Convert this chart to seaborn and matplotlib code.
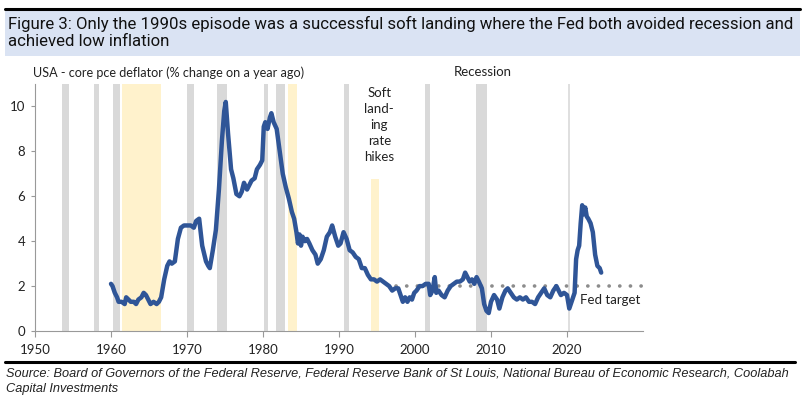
import matplotlib
matplotlib.use("Agg")
import matplotlib.pyplot as plt
import seaborn as sns
import pandas as pd
from matplotlib.patches import Rectangle
from matplotlib.lines import Line2D

# ---------------- data ----------------
years = [1960.0, 1960.2, 1960.5, 1960.8, 1961.0, 1961.4, 1961.8, 1962.0, 1962.3, 1962.6,
         1963.0, 1963.3, 1963.6, 1964.0, 1964.3, 1964.6, 1964.9, 1965.2, 1965.6, 1966.0,
         1966.3, 1966.6, 1967.0, 1967.4, 1967.7, 1968.0, 1968.4, 1968.8, 1969.2, 1969.6,
         1970.0, 1970.5, 1970.9, 1971.2, 1971.6, 1972.0, 1972.5, 1972.8, 1973.0, 1973.4,
         1973.8, 1974.2, 1974.6, 1974.9, 1975.1, 1975.4, 1975.8, 1976.1, 1976.5, 1976.9,
         1977.2, 1977.5, 1977.9, 1978.2, 1978.5, 1978.9, 1979.2, 1979.6, 1979.9, 1980.1,
         1980.3, 1980.6, 1980.9, 1981.1, 1981.4, 1981.8, 1982.2, 1982.6, 1983.0, 1983.4,
         1983.8, 1984.1, 1984.4, 1984.6, 1984.8, 1985.0, 1985.2, 1985.5, 1985.8, 1986.1,
         1986.5, 1986.9, 1987.2, 1987.6, 1988.0, 1988.4, 1988.8, 1989.1, 1989.5, 1989.9,
         1990.2, 1990.6, 1991.0, 1991.4, 1991.8, 1992.2, 1992.6, 1993.0, 1993.4, 1993.8,
         1994.2, 1994.6, 1995.0, 1995.4, 1995.8, 1996.2, 1996.6, 1997.0, 1997.4, 1997.8,
         1998.1, 1998.4, 1998.7, 1999.0, 1999.3, 1999.6, 1999.9, 2000.2, 2000.6, 2001.0,
         2001.4, 2001.8, 2002.0, 2002.3, 2002.6, 2002.8, 2003.1, 2003.5, 2003.9, 2004.3,
         2004.7, 2005.1, 2005.5, 2005.9, 2006.3, 2006.6, 2006.9, 2007.2, 2007.5, 2007.8,
         2008.1, 2008.4, 2008.8, 2009.1, 2009.4, 2009.7, 2010.0, 2010.4, 2010.8, 2011.1,
         2011.5, 2011.9, 2012.2, 2012.6, 2013.0, 2013.4, 2013.8, 2014.2, 2014.6, 2015.0,
         2015.4, 2015.8, 2016.2, 2016.6, 2017.0, 2017.4, 2017.8, 2018.2, 2018.6, 2018.9,
         2019.2, 2019.6, 2020.0, 2020.3, 2020.5, 2020.8, 2021.0, 2021.2, 2021.4, 2021.6,
         2021.8, 2022.0, 2022.2, 2022.4, 2022.6, 2022.8, 2023.1, 2023.4, 2023.7, 2024.0,
         2024.3, 2024.5]
core_pce = [2.1, 2.0, 1.7, 1.5, 1.3, 1.3, 1.2, 1.5, 1.4, 1.3,
            1.3, 1.2, 1.4, 1.5, 1.7, 1.6, 1.4, 1.2, 1.3, 1.2,
            1.3, 1.5, 2.3, 2.9, 3.1, 3.0, 3.1, 4.1, 4.6, 4.7,
            4.7, 4.7, 4.6, 4.9, 5.0, 3.8, 3.1, 2.9, 2.8, 3.6,
            4.5, 6.3, 8.5, 9.8, 10.2, 8.8, 7.2, 6.8, 6.1, 6.0,
            6.2, 6.6, 6.3, 6.5, 6.7, 6.8, 7.2, 7.4, 7.6, 9.1,
            9.3, 9.0, 9.5, 9.7, 9.3, 9.0, 8.0, 7.0, 6.4, 5.9,
            5.3, 5.0, 4.4, 3.9, 4.3, 3.8, 4.2, 4.0, 4.1, 3.9,
            3.6, 3.4, 3.0, 3.2, 3.6, 4.2, 4.4, 4.7, 4.2, 3.8,
            3.9, 4.4, 4.1, 3.6, 3.5, 3.3, 3.2, 2.8, 2.8, 2.5,
            2.3, 2.3, 2.2, 2.3, 2.2, 2.1, 2.0, 1.8, 1.9, 1.9,
            1.6, 1.3, 1.5, 1.3, 1.5, 1.4, 1.7, 1.8, 2.0, 2.0,
            2.1, 2.1, 1.6, 1.8, 2.4, 1.7, 1.8, 1.6, 1.5, 1.8,
            2.0, 2.1, 2.2, 2.2, 2.3, 2.6, 2.4, 2.2, 2.3, 2.1,
            2.4, 2.2, 1.9, 1.2, 0.9, 0.8, 1.3, 1.6, 1.4, 1.0,
            1.5, 1.8, 1.9, 1.7, 1.5, 1.4, 1.5, 1.4, 1.5, 1.3,
            1.3, 1.2, 1.5, 1.7, 1.9, 1.6, 1.5, 1.8, 2.0, 1.8,
            1.6, 1.7, 1.6, 1.0, 1.2, 1.5, 1.7, 3.2, 3.6, 3.8,
            4.8, 5.6, 5.2, 5.5, 5.1, 5.0, 4.8, 4.4, 3.4, 2.9,
            2.8, 2.6]

recession_start = [1953.6, 1957.8, 1960.3, 1970.0, 1974.0, 1980.1, 1981.7, 1990.7, 2001.3, 2008.0]
recession_end = [1954.5, 1958.4, 1961.2, 1970.9, 1975.3, 1980.6, 1982.9, 1991.3, 2002.0, 2009.5]
covid_recession = 2020.3
soft_start = [1961.4, 1983.3, 1994.2]
soft_end = [1966.6, 1984.5, 1995.2]
soft_top = [11.0, 11.0, 6.77]
fed_target = 2.0
fed_target_from = 1997.5

xticks = [1950, 1960, 1970, 1980, 1990, 2000, 2010, 2020]
yticks = [0, 2, 4, 6, 8, 10]

title = ("Figure 3: Only the 1990s episode was a successful soft landing where the Fed both avoided recession and\n"
         "achieved low inflation")
source = ("Source: Board of Governors of the Federal Reserve, Federal Reserve Bank of St Louis, National Bureau of Economic Research, Coolabah\n"
          "Capital Investments")

# ---------------- style ----------------
sns.set_theme(style="white")
plt.rcParams['font.family'] = ['Lato', 'DejaVu Sans']

W, H = 803, 398
fig = plt.figure(figsize=(W / 100, H / 100), dpi=100)
fig.patch.set_facecolor("white")

# title box
fig.patches.append(Rectangle((5 / W, 1 - 56 / H), 795 / W, 47 / H, transform=fig.transFigure,
                             facecolor="#dae3f3", edgecolor="none", zorder=0))
fig.lines.append(Line2D([5 / W, 800 / W], [1 - 8.5 / H, 1 - 8.5 / H], transform=fig.transFigure,
                        color="black", lw=2.2))
fig.text(8 / W, 1 - 32.5 / H, title, fontsize=12.1, family=['Roboto', 'DejaVu Sans'],
         va="center", ha="left", linespacing=1.22, color="#111111")

# source line
fig.lines.append(Line2D([5 / W, 795 / W], [1 - 362 / H, 1 - 362 / H], transform=fig.transFigure,
                        color="black", lw=2.2))
fig.text(6 / W, 1 - 381 / H, source, fontsize=9.2, style="italic",
         family=['Liberation Sans', 'DejaVu Sans'], va="center", ha="left", linespacing=1.35,
         color="#222222")

ax = fig.add_axes([35 / W, (H - 331) / H, (643 - 35) / W, (331 - 84) / H])
ax.set_xlim(1950, 2030)
ax.set_ylim(0, 11)

for s, e in zip(recession_start, recession_end):
    ax.axvspan(s, e, color="#d9d9d9", lw=0, zorder=1)
ax.axvline(covid_recession, color="#d9d9d9", lw=1.2, zorder=1)
for s, e, t in zip(soft_start, soft_end, soft_top):
    ax.add_patch(Rectangle((s, 0), e - s, t, facecolor="#fff2cc", edgecolor="none", zorder=1))

ax.plot([fed_target_from, 2030], [fed_target, fed_target], color="#8c8c8c", lw=2.6,
        linestyle=(0, (0.05, 2.9)), dash_capstyle="round", zorder=2)

df = pd.DataFrame({"year": years, "core_pce": core_pce})
sns.lineplot(data=df, x="year", y="core_pce", ax=ax, color="#2f5597", lw=3.2, zorder=3)

ax.set_xlabel("")
ax.set_ylabel("")
ax.set_xticks(xticks)
ax.set_yticks(yticks)
ax.tick_params(axis="both", labelsize=9.5, colors="#222222", length=4, width=0.8, direction="out")
ax.tick_params(axis="x", color="#999999", pad=5)
ax.tick_params(axis="y", color="#999999", pad=4, length=3)
ax.xaxis.set_ticks_position("bottom")
ax.yaxis.set_ticks_position("left")
for sp in ["top", "right"]:
    ax.spines[sp].set_visible(False)
for sp in ["left", "bottom"]:
    ax.spines[sp].set_color("#999999")
    ax.spines[sp].set_linewidth(0.8)
ax.patch.set_alpha(0)

ax.text(-0.003, 1.045, "USA - core pce deflator (% change on a year ago)", transform=ax.transAxes,
        fontsize=9.1, ha="left", va="center", color="#222222")
ax.text(2008.9, 11.55, "Recession", fontsize=9.5, ha="center", va="center", color="#222222",
        clip_on=False)
ax.text(1995.3, 9.18, "Soft\nland-\ning\nrate\nhikes", fontsize=9.5, ha="center", va="center",
        linespacing=1.4, color="#222222")
ax.text(2029.6, 1.4, "Fed target", fontsize=9.5, ha="right", va="center", color="#222222")

fig.savefig("out.png", dpi=100, facecolor="white")
